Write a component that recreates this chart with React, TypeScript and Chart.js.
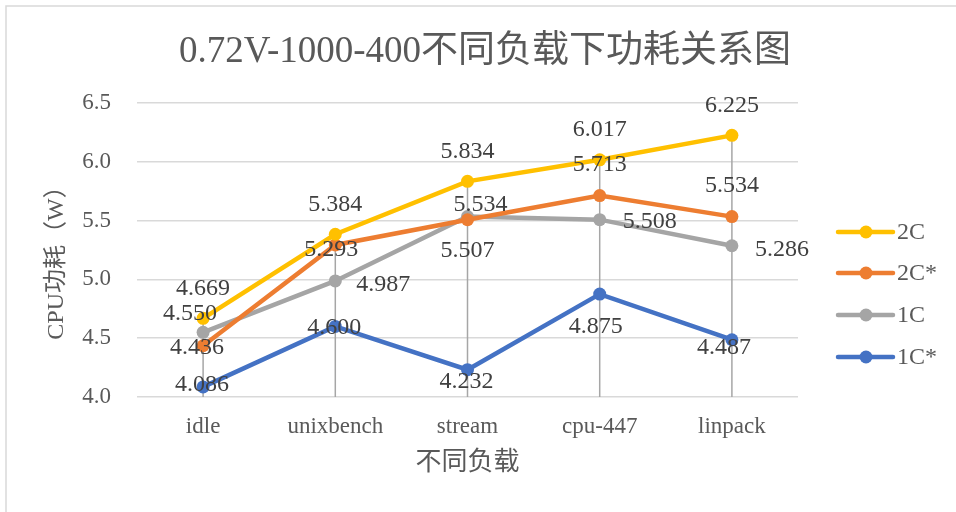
import React, { useEffect, useRef } from "react";
import { Chart, registerables } from "chart.js";

Chart.register(...registerables);

const TITLE = "0.72V-1000-400不同负载下功耗关系图";
const X_TITLE = "不同负载";
const Y_TITLE = "CPU功耗（W）";
const categories = ["idle", "unixbench", "stream", "cpu-447", "linpack"];

const series2C = [4.669, 5.384, 5.834, 6.017, 6.225];
const series2CStar = [4.436, 5.293, 5.507, 5.713, 5.534];
const series1C = [4.55, 4.987, 5.534, 5.508, 5.286];
const series1CStar = [4.086, 4.6, 4.232, 4.875, 4.487];

const seriesNames = ["2C", "2C*", "1C", "1C*"];
const seriesColors = ["#FFC000", "#ED7D31", "#A5A5A5", "#4472C4"];

// label offsets (dx, dy) from the point, per series / per category
const labelOffsets = [
  [[0, -30], [0, -30], [0, -30], [0, -30], [0, -30]],
  [[-6, 2], [-4, 5], [0, 31], [0, -31], [0, -31]],
  [[-13, -19], [48, 4], [13, -12], [50, 2], [50, 4]],
  [[-1, -2], [-1, 1], [-1, 12], [-4, 33], [-8, 8]],
];

const SERIF = '"Liberation Serif", "Times New Roman", "Noto Sans CJK SC", serif';
const CJK = '"Liberation Serif", "Noto Sans CJK SC", serif';

const customPlugin = {
  id: "custom",
  beforeDatasetsDraw(chart: any) {
    const ctx = chart.ctx;
    const area = chart.chartArea;
    const n = categories.length;
    ctx.save();
    ctx.strokeStyle = "#A6A6A6";
    ctx.lineWidth = 1.5;
    for (let i = 0; i < n; i++) {
      let minY = Infinity;
      let x = 0;
      chart.data.datasets.forEach((_: any, d: number) => {
        const el = chart.getDatasetMeta(d).data[i];
        if (el.y < minY) minY = el.y;
        x = el.x;
      });
      ctx.beginPath();
      ctx.moveTo(x, minY);
      ctx.lineTo(x, area.bottom);
      ctx.stroke();
    }
    ctx.restore();
  },
  afterDraw(chart: any) {
    const ctx = chart.ctx;
    const area = chart.chartArea;
    ctx.save();
    // border
    ctx.strokeStyle = "#D9D9D9";
    ctx.lineWidth = 1.5;
    ctx.beginPath();
    ctx.moveTo(6, 512);
    ctx.lineTo(6, 6);
    ctx.lineTo(956, 6);
    ctx.stroke();

    // title
    ctx.fillStyle = "#595959";
    ctx.textAlign = "center";
    ctx.textBaseline = "alphabetic";
    ctx.font = `37px ${CJK}`;
    ctx.fillText(TITLE, 485, 62);

    // axis titles
    ctx.textBaseline = "middle";
    ctx.font = `26px ${CJK}`;
    ctx.fillText(X_TITLE, (area.left + area.right) / 2, 463);
    ctx.save();
    ctx.translate(57, 257);
    ctx.rotate(-Math.PI / 2);
    ctx.font = `24px ${CJK}`;
    ctx.fillText(Y_TITLE, 0, 0);
    ctx.restore();

    // data labels
    ctx.font = `24px ${SERIF}`;
    ctx.fillStyle = "#404040";
    chart.data.datasets.forEach((ds: any, d: number) => {
      const meta = chart.getDatasetMeta(d);
      meta.data.forEach((el: any, i: number) => {
        const [dx, dy] = labelOffsets[d][i];
        ctx.fillText(Number(ds.data[i]).toFixed(3), el.x + dx, el.y + dy);
      });
    });

    // legend
    const lx = 838;
    const ly = [232, 273, 315, 357];
    seriesNames.forEach((name, k) => {
      ctx.strokeStyle = seriesColors[k];
      ctx.lineWidth = 4.5;
      ctx.lineCap = "round";
      ctx.beginPath();
      ctx.moveTo(lx, ly[k]);
      ctx.lineTo(lx + 55, ly[k]);
      ctx.stroke();
      ctx.fillStyle = seriesColors[k];
      ctx.beginPath();
      ctx.arc(lx + 28, ly[k], 6.5, 0, Math.PI * 2);
      ctx.fill();
      ctx.fillStyle = "#595959";
      ctx.textAlign = "left";
      ctx.font = `24px ${SERIF}`;
      ctx.fillText(name, lx + 59, ly[k] + 1);
    });
    ctx.restore();
  },
};

export default function App() {
  const ref = useRef<HTMLCanvasElement | null>(null);
  useEffect(() => {
    if (!ref.current) return;
    const all = [series2C, series2CStar, series1C, series1CStar];
    const chart = new Chart(ref.current, {
      type: "line",
      data: {
        labels: categories,
        datasets: all.map((data, k) => ({
          label: seriesNames[k],
          data,
          borderColor: seriesColors[k],
          backgroundColor: seriesColors[k],
          borderWidth: 4.5,
          pointRadius: 6.5,
          pointBorderWidth: 0,
          pointBackgroundColor: seriesColors[k],
          tension: 0,
        })),
      },
      options: {
        responsive: false,
        animation: false,
        layout: { padding: { top: 103, left: 0, right: 158, bottom: 0 } },
        plugins: {
          legend: { display: false },
          title: { display: false },
          tooltip: { enabled: false },
        },
        scales: {
          x: {
            type: "category",
            offset: true,
            grid: { display: false, drawTicks: false },
            border: { display: false },
            ticks: {
              color: "#595959",
              font: { family: SERIF, size: 23 },
              padding: 16,
              maxRotation: 0,
            },
            afterFit(scale: any) {
              scale.height = 115;
            },
          },
          y: {
            min: 4.0,
            max: 6.5,
            grid: { color: "#D9D9D9", lineWidth: 1.5, drawTicks: false },
            border: { display: false },
            ticks: {
              stepSize: 0.5,
              color: "#595959",
              font: { family: SERIF, size: 23 },
              padding: 26,
              callback: (v: any) => Number(v).toFixed(1),
            },
            afterFit(scale: any) {
              scale.width = 137;
            },
          },
        },
      },
      plugins: [customPlugin],
    });
    return () => chart.destroy();
  }, []);
  return (
    <div
      style={{
        position: "fixed",
        left: 0,
        top: 0,
        width: 956,
        height: 512,
        background: "#fff",
      }}
    >
      <canvas ref={ref} width={956} height={512} style={{ display: "block" }} />
    </div>
  );
}
